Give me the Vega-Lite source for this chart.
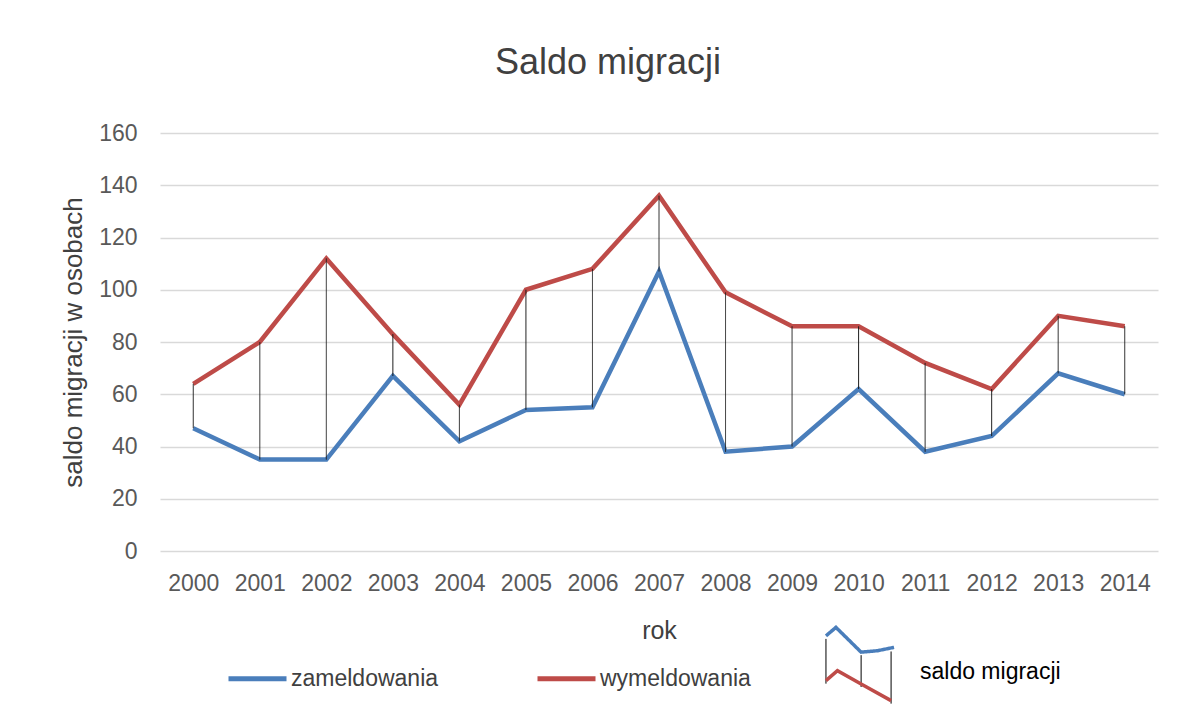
{
  "$schema": "https://vega.github.io/schema/vega-lite/v6.json",
  "width": 998,
  "height": 418,
  "autosize": "none",
  "padding": {"left": 160, "top": 133, "right": 40, "bottom": 160},
  "background": "white",
  "config": {"view": {"stroke": null}, "font": "Liberation Sans"},
  "title": {"text": "Saldo migracji", "fontSize": 36, "fontWeight": "normal", "color": "#404040", "dx": -51, "offset": 40, "anchor": "middle"},
  "data": {"values": [
    {"rok": "2000", "zameldowania": 47, "wymeldowania": 64},
    {"rok": "2001", "zameldowania": 35, "wymeldowania": 80},
    {"rok": "2002", "zameldowania": 35, "wymeldowania": 112},
    {"rok": "2003", "zameldowania": 67, "wymeldowania": 83},
    {"rok": "2004", "zameldowania": 42, "wymeldowania": 56},
    {"rok": "2005", "zameldowania": 54, "wymeldowania": 100},
    {"rok": "2006", "zameldowania": 55, "wymeldowania": 108},
    {"rok": "2007", "zameldowania": 107, "wymeldowania": 136},
    {"rok": "2008", "zameldowania": 38, "wymeldowania": 99},
    {"rok": "2009", "zameldowania": 40, "wymeldowania": 86},
    {"rok": "2010", "zameldowania": 62, "wymeldowania": 86},
    {"rok": "2011", "zameldowania": 38, "wymeldowania": 72},
    {"rok": "2012", "zameldowania": 44, "wymeldowania": 62},
    {"rok": "2013", "zameldowania": 68, "wymeldowania": 90},
    {"rok": "2014", "zameldowania": 60, "wymeldowania": 86}
  ]},
  "encoding": {
    "x": {"field": "rok", "type": "ordinal", "scale": {"type": "point", "padding": 0.5},
      "axis": {"title": "rok", "labelAngle": 0, "labelFontSize": 23, "labelColor": "#595959", "labelPadding": 21, "ticks": false, "domain": false, "grid": false,
        "titleFontSize": 25, "titleFontWeight": "normal", "titleColor": "#404040", "titlePadding": 23}}
  },
  "layer": [
    {
      "transform": [{"fold": ["zameldowania", "wymeldowania"], "as": ["seria", "wartosc"]}],
      "mark": {"type": "line", "strokeWidth": 4.5},
      "encoding": {
        "y": {"field": "wartosc", "type": "quantitative", "scale": {"domain": [0, 160]},
          "axis": {"title": "saldo migracji w osobach", "values": [0, 20, 40, 60, 80, 100, 120, 140, 160], "labelFontSize": 23, "labelColor": "#595959", "labelPadding": 23,
            "ticks": false, "domain": false, "gridColor": "#d9d9d9", "gridWidth": 1.3,
            "titleFontSize": 26, "titleFontWeight": "normal", "titleColor": "#404040", "titlePadding": 12}},
        "color": {"field": "seria", "type": "nominal",
          "scale": {"domain": ["zameldowania", "wymeldowania"], "range": ["#4a7ebb", "#be4b48"]},
          "legend": {"orient": "none", "legendX": 66, "legendY": 514, "direction": "horizontal", "title": null,
            "symbolType": "stroke", "symbolSize": 3364, "symbolStrokeWidth": 5, "labelFontSize": 23, "labelColor": "#404040", "labelOffset": 2, "columnPadding": 88}}
      }
    },
    {
      "mark": {"type": "rule", "color": "#1a1a1a"},
      "encoding": {
        "y": {"field": "zameldowania", "type": "quantitative"},
        "y2": {"field": "wymeldowania"},
        "strokeWidth": {"datum": "saldo migracji", "type": "ordinal", "scale": {"range": [2]},
          "legend": {"orient": "none", "legendX": 700, "legendY": 534, "title": null,
            "symbolType": "M-0.92,-0.76L-0.92,0.45M0.03,-0.32L0.03,0.54M0.84,-0.42L0.84,0.99",
            "symbolSize": 5476, "symbolStrokeColor": "#000000", "symbolFillColor": "transparent",
            "labelFontSize": 23, "labelColor": "#000000", "labelOffset": 85,
            "encode": {"labels": {"update": {"dy": {"value": 5}, "dx": {"value": 60}}}}}},
        "strokeDash": {"datum": "a", "type": "nominal", "scale": {"range": [[1, 0]]},
          "legend": {"orient": "none", "legendX": 661, "legendY": 492, "title": null,
            "symbolType": "M-0.92,-0.76L-0.65,-0.99L0.03,-0.32L0.48,-0.36L0.92,-0.45",
            "symbolSize": 5476, "symbolStrokeColor": "#4a7ebb", "symbolStrokeWidth": 3.5, "symbolFillColor": "transparent",
            "labelFontSize": 20, "labelExpr": "''", "labelOffset": 23}},
        "opacity": {"datum": "b", "type": "ordinal", "scale": {"range": [1]},
          "legend": {"orient": "none", "legendX": 661, "legendY": 492, "title": null,
            "symbolType": "M-0.92,0.45L-0.61,0.18L0.03,0.54L0.84,0.99",
            "symbolSize": 5476, "symbolStrokeColor": "#be4b48", "symbolStrokeWidth": 3.5, "symbolFillColor": "transparent",
            "labelFontSize": 20, "labelExpr": "''", "labelOffset": 23}}
      }
    }
  ]
}
